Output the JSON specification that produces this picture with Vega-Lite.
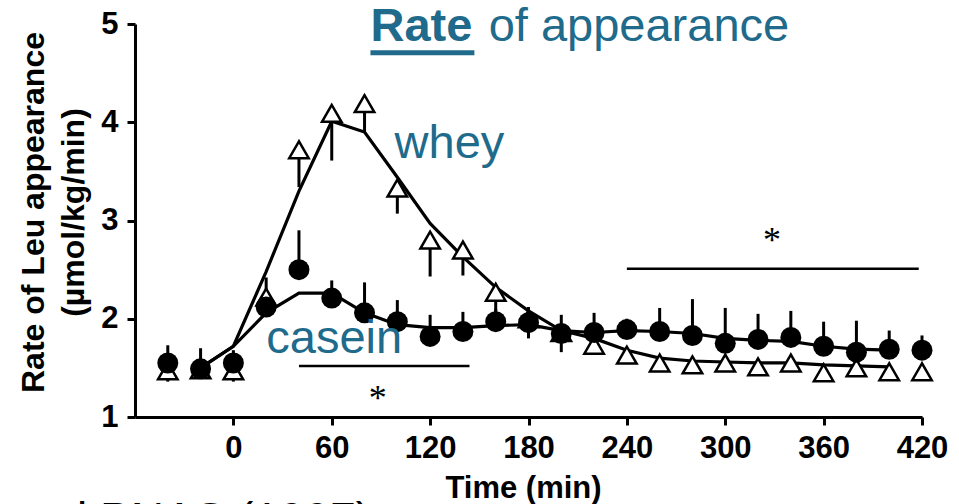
{
  "$schema": "https://vega.github.io/schema/vega-lite/v6.json",
  "width": 787,
  "height": 393,
  "autosize": {"type": "none"},
  "padding": {"left": 135, "top": 24, "right": 37, "bottom": 87},
  "background": "white",
  "config": {"view": {"stroke": null}, "font": "Liberation Sans"},
  "datasets": {
    "fit": [
      {"protein": "whey", "t": -20, "rate": 1.5},
      {"protein": "whey", "t": 0, "rate": 1.72},
      {"protein": "whey", "t": 20, "rate": 2.48},
      {"protein": "whey", "t": 40, "rate": 3.3},
      {"protein": "whey", "t": 60, "rate": 4.01},
      {"protein": "whey", "t": 80, "rate": 3.9},
      {"protein": "whey", "t": 100, "rate": 3.44},
      {"protein": "whey", "t": 120, "rate": 2.97},
      {"protein": "whey", "t": 140, "rate": 2.63},
      {"protein": "whey", "t": 160, "rate": 2.32},
      {"protein": "whey", "t": 180, "rate": 2.08},
      {"protein": "whey", "t": 200, "rate": 1.88},
      {"protein": "whey", "t": 220, "rate": 1.8},
      {"protein": "whey", "t": 240, "rate": 1.68},
      {"protein": "whey", "t": 260, "rate": 1.6},
      {"protein": "whey", "t": 280, "rate": 1.57},
      {"protein": "whey", "t": 300, "rate": 1.56},
      {"protein": "whey", "t": 320, "rate": 1.55},
      {"protein": "whey", "t": 340, "rate": 1.55},
      {"protein": "whey", "t": 360, "rate": 1.53},
      {"protein": "whey", "t": 380, "rate": 1.52},
      {"protein": "whey", "t": 400, "rate": 1.51},
      {"protein": "casein", "t": -20, "rate": 1.5},
      {"protein": "casein", "t": 0, "rate": 1.72},
      {"protein": "casein", "t": 20, "rate": 2.06},
      {"protein": "casein", "t": 40, "rate": 2.26},
      {"protein": "casein", "t": 60, "rate": 2.26},
      {"protein": "casein", "t": 80, "rate": 2.06},
      {"protein": "casein", "t": 100, "rate": 1.94},
      {"protein": "casein", "t": 120, "rate": 1.91},
      {"protein": "casein", "t": 140, "rate": 1.91},
      {"protein": "casein", "t": 160, "rate": 1.93},
      {"protein": "casein", "t": 180, "rate": 1.94},
      {"protein": "casein", "t": 200, "rate": 1.88},
      {"protein": "casein", "t": 220, "rate": 1.86},
      {"protein": "casein", "t": 240, "rate": 1.88},
      {"protein": "casein", "t": 260, "rate": 1.87},
      {"protein": "casein", "t": 280, "rate": 1.85},
      {"protein": "casein", "t": 300, "rate": 1.8},
      {"protein": "casein", "t": 320, "rate": 1.78},
      {"protein": "casein", "t": 340, "rate": 1.77},
      {"protein": "casein", "t": 360, "rate": 1.72},
      {"protein": "casein", "t": 380, "rate": 1.69},
      {"protein": "casein", "t": 400, "rate": 1.68}
    ],
    "points": [
      {"protein": "whey", "t": -40, "rate": 1.47},
      {"protein": "whey", "t": -20, "rate": 1.48},
      {"protein": "whey", "t": 0, "rate": 1.47},
      {"protein": "whey", "t": 20, "rate": 2.22},
      {"protein": "whey", "t": 40, "rate": 3.72},
      {"protein": "whey", "t": 60, "rate": 4.09},
      {"protein": "whey", "t": 80, "rate": 4.19},
      {"protein": "whey", "t": 100, "rate": 3.33},
      {"protein": "whey", "t": 120, "rate": 2.8},
      {"protein": "whey", "t": 140, "rate": 2.7},
      {"protein": "whey", "t": 160, "rate": 2.27},
      {"protein": "whey", "t": 180, "rate": 2.0},
      {"protein": "whey", "t": 200, "rate": 1.86},
      {"protein": "whey", "t": 220, "rate": 1.73},
      {"protein": "whey", "t": 240, "rate": 1.63},
      {"protein": "whey", "t": 260, "rate": 1.55},
      {"protein": "whey", "t": 280, "rate": 1.53},
      {"protein": "whey", "t": 300, "rate": 1.55},
      {"protein": "whey", "t": 320, "rate": 1.51},
      {"protein": "whey", "t": 340, "rate": 1.55},
      {"protein": "whey", "t": 360, "rate": 1.45},
      {"protein": "whey", "t": 380, "rate": 1.5},
      {"protein": "whey", "t": 400, "rate": 1.46},
      {"protein": "whey", "t": 420, "rate": 1.46},
      {"protein": "casein", "t": -40, "rate": 1.55},
      {"protein": "casein", "t": -20, "rate": 1.49},
      {"protein": "casein", "t": 0, "rate": 1.55},
      {"protein": "casein", "t": 20, "rate": 2.12},
      {"protein": "casein", "t": 40, "rate": 2.5},
      {"protein": "casein", "t": 60, "rate": 2.21},
      {"protein": "casein", "t": 80, "rate": 2.06},
      {"protein": "casein", "t": 100, "rate": 1.97},
      {"protein": "casein", "t": 120, "rate": 1.82},
      {"protein": "casein", "t": 140, "rate": 1.87},
      {"protein": "casein", "t": 160, "rate": 1.97},
      {"protein": "casein", "t": 180, "rate": 1.96},
      {"protein": "casein", "t": 200, "rate": 1.85},
      {"protein": "casein", "t": 220, "rate": 1.86},
      {"protein": "casein", "t": 240, "rate": 1.89},
      {"protein": "casein", "t": 260, "rate": 1.87},
      {"protein": "casein", "t": 280, "rate": 1.83},
      {"protein": "casein", "t": 300, "rate": 1.75},
      {"protein": "casein", "t": 320, "rate": 1.79},
      {"protein": "casein", "t": 340, "rate": 1.81},
      {"protein": "casein", "t": 360, "rate": 1.72},
      {"protein": "casein", "t": 380, "rate": 1.66},
      {"protein": "casein", "t": 400, "rate": 1.69},
      {"protein": "casein", "t": 420, "rate": 1.68}
    ],
    "bars": [
      {"protein": "whey", "t": -40, "rate": 1.47, "rate2": 1.36},
      {"protein": "whey", "t": 0, "rate": 1.47, "rate2": 1.36},
      {"protein": "whey", "t": 40, "rate": 3.72, "rate2": 3.34},
      {"protein": "whey", "t": 60, "rate": 4.09, "rate2": 3.61},
      {"protein": "whey", "t": 80, "rate": 4.19, "rate2": 3.89},
      {"protein": "whey", "t": 100, "rate": 3.33, "rate2": 3.07},
      {"protein": "whey", "t": 120, "rate": 2.8, "rate2": 2.43},
      {"protein": "whey", "t": 140, "rate": 2.7, "rate2": 2.44},
      {"protein": "whey", "t": 160, "rate": 2.27, "rate2": 2.06},
      {"protein": "whey", "t": 220, "rate": 1.73, "rate2": 1.66},
      {"protein": "whey", "t": 240, "rate": 1.63, "rate2": 1.55},
      {"protein": "whey", "t": 260, "rate": 1.55, "rate2": 1.47},
      {"protein": "whey", "t": 300, "rate": 1.55, "rate2": 1.48},
      {"protein": "whey", "t": 320, "rate": 1.51, "rate2": 1.45},
      {"protein": "whey", "t": 360, "rate": 1.45, "rate2": 1.4},
      {"protein": "whey", "t": 380, "rate": 1.5, "rate2": 1.44},
      {"protein": "whey", "t": 420, "rate": 1.46, "rate2": 1.4},
      {"protein": "casein", "t": -40, "rate": 1.55, "rate2": 1.73},
      {"protein": "casein", "t": -20, "rate": 1.49, "rate2": 1.7},
      {"protein": "casein", "t": 0, "rate": 1.55, "rate2": 1.68},
      {"protein": "casein", "t": 20, "rate": 2.12, "rate2": 2.42},
      {"protein": "casein", "t": 40, "rate": 2.5, "rate2": 2.9},
      {"protein": "casein", "t": 60, "rate": 2.21, "rate2": 2.39},
      {"protein": "casein", "t": 80, "rate": 2.06, "rate2": 2.37},
      {"protein": "casein", "t": 100, "rate": 1.97, "rate2": 2.19},
      {"protein": "casein", "t": 120, "rate": 1.82, "rate2": 2.04},
      {"protein": "casein", "t": 140, "rate": 1.87, "rate2": 2.07},
      {"protein": "casein", "t": 160, "rate": 1.97, "rate2": 2.1},
      {"protein": "casein", "t": 180, "rate": 1.96, "rate2": 2.12},
      {"protein": "casein", "t": 180, "rate": 1.96, "rate2": 1.8},
      {"protein": "casein", "t": 200, "rate": 1.85, "rate2": 2.04},
      {"protein": "casein", "t": 200, "rate": 1.85, "rate2": 1.66},
      {"protein": "casein", "t": 220, "rate": 1.86, "rate2": 2.06},
      {"protein": "casein", "t": 240, "rate": 1.89, "rate2": 2.0},
      {"protein": "casein", "t": 260, "rate": 1.87, "rate2": 2.11},
      {"protein": "casein", "t": 280, "rate": 1.83, "rate2": 2.2},
      {"protein": "casein", "t": 300, "rate": 1.75, "rate2": 2.11},
      {"protein": "casein", "t": 320, "rate": 1.79, "rate2": 2.05},
      {"protein": "casein", "t": 340, "rate": 1.81, "rate2": 2.08},
      {"protein": "casein", "t": 360, "rate": 1.72, "rate2": 1.97},
      {"protein": "casein", "t": 380, "rate": 1.66, "rate2": 1.98},
      {"protein": "casein", "t": 400, "rate": 1.69, "rate2": 1.88},
      {"protein": "casein", "t": 420, "rate": 1.68, "rate2": 1.83}
    ],
    "sig": [
      {"t": 40, "t2": 144, "rate": 1.52},
      {"t": 240, "t2": 418, "rate": 2.51}
    ],
    "stars": [
      {"t": 88, "rate": 1.24, "label": "*"},
      {"t": 328.5, "rate": 2.85, "label": "*"}
    ],
    "tealbold": [
      {"t": 83.6, "rate": 4.825, "label": "Rate"}
    ],
    "teal": [
      {"t": 155.7, "rate": 4.825, "label": "of appearance"},
      {"t": 98.3, "rate": 3.635, "label": "whey"},
      {"t": 20.1, "rate": 1.651, "label": "casein"}
    ],
    "underline": [
      {"t": 83.6, "t2": 147, "rate": 4.708}
    ],
    "cite": [
      {"t": 84, "rate": -0.2, "label": "Boirie et al PNAS (1997)"}
    ]
  },
  "layer": [
    {
      "data": {"name": "fit"},
      "mark": {"type": "line", "color": "black", "strokeWidth": 3.2},
      "encoding": {
        "x": {
          "field": "t", "type": "quantitative",
          "scale": {"domain": [-60, 420], "nice": false, "zero": false},
          "axis": {
            "values": [0, 60, 120, 180, 240, 300, 360, 420],
            "format": "d",
            "title": "Time (min)",
            "titleFontSize": 31, "titleFontWeight": "bold", "titleColor": "black",
            "titleBaseline": "alphabetic", "titleAlign": "center",
            "titleX": 388, "titleY": 80,
            "labelFontSize": 31, "labelFontWeight": "bold", "labelColor": "black",
            "labelBaseline": "alphabetic", "labelPadding": 32, "labelFlush": false, "labelOverlap": false,
            "tickSize": 8, "tickWidth": 3, "tickColor": "black",
            "domainColor": "black", "domainWidth": 3, "grid": false
          }
        },
        "y": {
          "field": "rate", "type": "quantitative",
          "scale": {"domain": [1, 5], "nice": false, "zero": false},
          "axis": {
            "values": [1, 2, 3, 4, 5],
            "format": "d",
            "title": ["Rate of Leu appearance", "(µmol/kg/min)"],
            "titleFontSize": 32, "titleFontWeight": "bold", "titleColor": "black",
            "titleAngle": -90, "titleAlign": "center", "titleBaseline": "alphabetic",
            "titleLineHeight": 40, "titleX": -92, "titleY": 188,
            "labelFontSize": 31, "labelFontWeight": "bold", "labelColor": "black",
            "labelPadding": 9, "labelFlush": false, "labelOverlap": false,
            "tickSize": 8, "tickWidth": 3, "tickColor": "black",
            "domainColor": "black", "domainWidth": 3, "grid": false
          }
        },
        "detail": {"field": "protein"}
      }
    },
    {
      "data": {"name": "bars"},
      "mark": {"type": "rule", "color": "black", "strokeWidth": 3},
      "encoding": {
        "x": {"field": "t", "type": "quantitative"},
        "y": {"field": "rate", "type": "quantitative"},
        "y2": {"field": "rate2"}
      }
    },
    {
      "data": {"name": "sig"},
      "mark": {"type": "rule", "color": "black", "strokeWidth": 2.5},
      "encoding": {
        "x": {"field": "t", "type": "quantitative"},
        "x2": {"field": "t2"},
        "y": {"field": "rate", "type": "quantitative"}
      }
    },
    {
      "data": {"name": "points"},
      "transform": [{"filter": "datum.protein === 'whey'"}],
      "mark": {"type": "point", "shape": "triangle-up", "filled": true, "fill": "white", "stroke": "black", "strokeWidth": 2.5, "size": 380, "opacity": 1},
      "encoding": {
        "x": {"field": "t", "type": "quantitative"},
        "y": {"field": "rate", "type": "quantitative"}
      }
    },
    {
      "data": {"name": "points"},
      "transform": [{"filter": "datum.protein === 'casein'"}],
      "mark": {"type": "circle", "color": "black", "size": 441, "opacity": 1},
      "encoding": {
        "x": {"field": "t", "type": "quantitative"},
        "y": {"field": "rate", "type": "quantitative"}
      }
    },
    {
      "data": {"name": "stars"},
      "mark": {"type": "text", "font": "Liberation Serif", "fontSize": 36, "color": "black", "align": "center", "baseline": "middle", "dy": 6},
      "encoding": {
        "x": {"field": "t", "type": "quantitative"},
        "y": {"field": "rate", "type": "quantitative"},
        "text": {"field": "label"}
      }
    },
    {
      "data": {"name": "tealbold"},
      "mark": {"type": "text", "fontSize": 47, "fontWeight": "bold", "color": "#206a8b", "align": "left", "baseline": "alphabetic"},
      "encoding": {
        "x": {"field": "t", "type": "quantitative"},
        "y": {"field": "rate", "type": "quantitative"},
        "text": {"field": "label"}
      }
    },
    {
      "data": {"name": "teal"},
      "mark": {"type": "text", "fontSize": 47, "color": "#206a8b", "align": "left", "baseline": "alphabetic"},
      "encoding": {
        "x": {"field": "t", "type": "quantitative"},
        "y": {"field": "rate", "type": "quantitative"},
        "text": {"field": "label"}
      }
    },
    {
      "data": {"name": "underline"},
      "mark": {"type": "rule", "color": "#206a8b", "strokeWidth": 5},
      "encoding": {
        "x": {"field": "t", "type": "quantitative"},
        "x2": {"field": "t2"},
        "y": {"field": "rate", "type": "quantitative"}
      }
    },
    {
      "data": {"name": "cite"},
      "mark": {"type": "text", "fontSize": 46, "color": "black", "align": "right", "baseline": "alphabetic"},
      "encoding": {
        "x": {"field": "t", "type": "quantitative"},
        "y": {"field": "rate", "type": "quantitative"},
        "text": {"field": "label"}
      }
    }
  ]
}
